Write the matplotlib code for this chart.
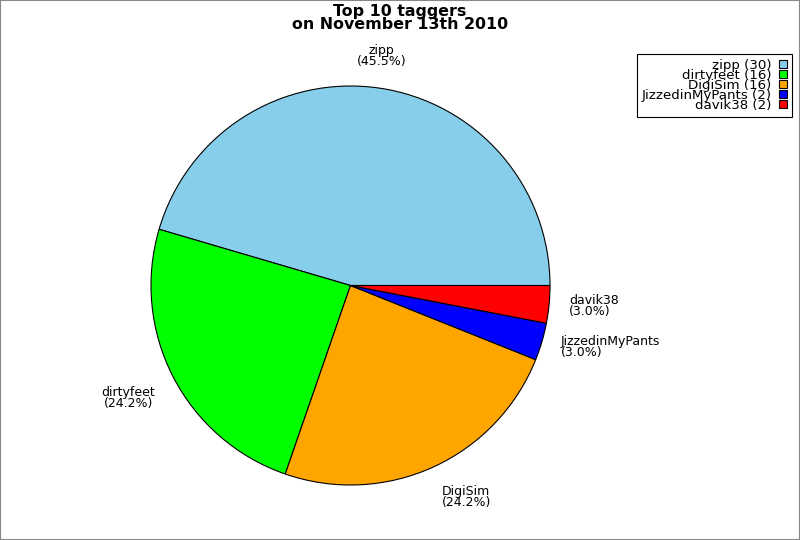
import matplotlib
matplotlib.use("Agg")
import matplotlib.pyplot as plt
import numpy as np
from matplotlib.patches import Rectangle, Patch

names = ["zipp", "dirtyfeet", "DigiSim", "JizzedinMyPants", "davik38"]
counts = [30, 16, 16, 2, 2]
colors = ["#87CEEB", "#00FF00", "#FFA500", "#0000FF", "#FF0000"]
title = "Top 10 taggers\non November 13th 2010"

fig = plt.figure(figsize=(8, 5.4), dpi=100)
ax = fig.add_axes([0, 0, 1, 1])
cx, cy, r = 350.5, 540 - 285.5, 199.5
wedges, _ = ax.pie(counts, colors=colors, startangle=0, counterclock=True,
                   center=(cx, cy), radius=r, frame=True,
                   wedgeprops=dict(edgecolor="black", linewidth=0.8))
ax.set_xlim(0, 800)
ax.set_ylim(0, 540)
ax.set_aspect("equal")
ax.axis("off")

total = sum(counts)
start = 0.0
lr = r * 1.10
for n, c in zip(names, counts):
    frac = c / total
    mid = np.deg2rad((start + frac * 180.0))
    start += frac * 360.0
    x = cx + lr * np.cos(mid)
    y = cy + lr * np.sin(mid)
    cs, sn = np.cos(mid), np.sin(mid)
    if cs > 0.3:
        ha, ma = "left", "left"
    elif cs < -0.3:
        ha, ma = "right", "center"
    else:
        ha, ma = "center", "center"
    if sn > 0.4:
        va = "bottom"
    elif sn < -0.4:
        va = "top"
    else:
        va = "center"
    ax.text(x, y, f"{n}\n({frac*100:.1f}%)", ha=ha, va=va,
            fontsize=9, linespacing=0.78, multialignment=ma)

fig.text(0.5, 0.993, title, ha="center", va="top", fontsize=11.4,
         fontweight="bold", linespacing=0.88)

handles = [Patch(facecolor=col, edgecolor="black", linewidth=0.8) for col in colors]
labels = [f"{n} ({c})" for n, c in zip(names, counts)]
leg = fig.legend(handles, labels, loc="upper right",
                 bbox_to_anchor=(792 / 800, 1 - 54 / 540),
                 markerfirst=False, fontsize=9.6, labelspacing=-0.22,
                 handlelength=0.6, handleheight=0.6, handletextpad=0.6,
                 borderpad=0.35, borderaxespad=0, fancybox=False,
                 framealpha=1, edgecolor="black")
leg.get_frame().set_linewidth(0.8)
for t in leg.get_texts():
    t.set_ha("right")

fig.patches.append(Rectangle((0, 0), 1, 1, transform=fig.transFigure,
                             fill=False, edgecolor="#888888", linewidth=1.5))
fig.savefig("out.png", dpi=100)
